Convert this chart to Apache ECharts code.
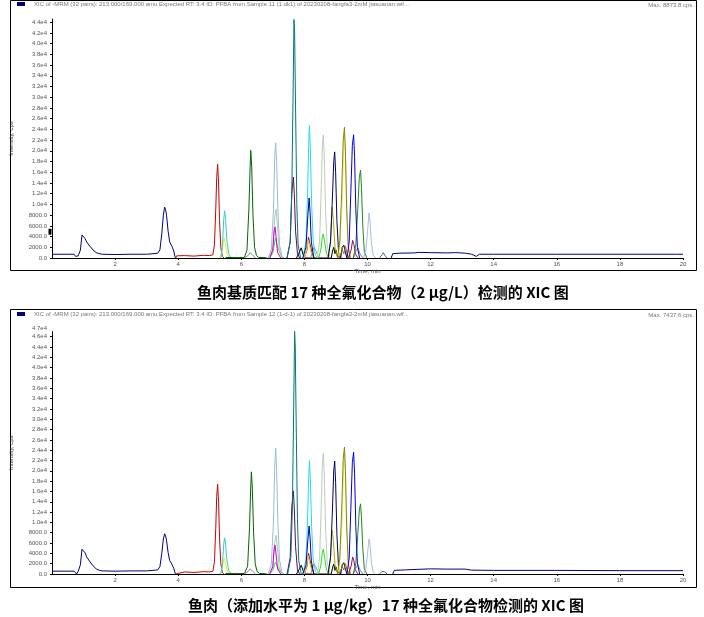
<!DOCTYPE html>
<html><head><meta charset="utf-8">
<script src="https://cdn.jsdelivr.net/npm/echarts@6/dist/echarts.min.js"></script>
<style>html,body{margin:0;padding:0;background:#fff}#c{width:704px;height:617px}</style>
</head><body><div id="c"></div>
<script>
// ---------- tick / text data ----------
const xTicks = [2,4,6,8,10,12,14,16,18,20];
const yTicksTop = [0,2000,4000,6000,8000,10000,12000,14000,16000,18000,20000,22000,24000,26000,28000,30000,32000,34000,36000,38000,40000,42000,44000];
const yTicksBot = [0,2000,4000,6000,8000,10000,12000,14000,16000,18000,20000,22000,24000,26000,28000,30000,32000,34000,36000,38000,40000,42000,44000,46000];
const yMaxTickBot = [47000];
const headerTop = "XIC of -MRM (32 pairs): 213.000/169.000 amu Expected RT: 3.4 ID: PFBA from Sample 11 (1.dk1) of 20230208-fangfa3-2mM jiasuanan.wif...";
const headerBot = "XIC of -MRM (32 pairs): 213.000/169.000 amu Expected RT: 3.4 ID: PFBA from Sample 12 (1-d-1) of 20230208-fangfa3-2mM jiasuanan.wif...";
const maxTop = "Max. 8873.8 cps.";
const maxBot = "Max. 7437.6 cps.";
const captionTop = "鱼肉基质匹配 17 种全氟化合物（2 μg/L）检测的 XIC 图";
const captionBot = "鱼肉（添加水平为 1 μg/kg）17 种全氟化合物检测的 XIC 图";
const markerTop = [0, 4900];

// ---------- trace data (time, cps) : top panel ----------
const pfbaTop = [[0,700],[0.7,700],[0.75,300],[0.78,0],[0.83,400],[0.9,1500],[0.95,4300],[0.98,4000],[1.0,4500],[1.05,3600],[1.1,3000],[1.2,2200],[1.3,1500],[1.4,1000],[1.5,800],[1.6,700],[2.0,650],[2.5,700],[3.0,700],[3.2,800],[3.35,900],[3.42,1500],[3.48,4500],[3.53,8000],[3.57,9500],[3.6,9000],[3.63,8000],[3.68,5000],[3.73,3000],[3.8,2200],[3.86,1300],[3.9,200],[3.92,0]];
const tailTop = [[10.75,0],[10.8,800],[11.0,900],[11.5,950],[11.6,1050],[12.0,1000],[12.5,950],[12.8,1000],[13.1,900],[13.3,700],[13.45,300],[13.55,700],[14,700],[16,700],[18,700],[19.8,700],[19.85,600],[20,700]];
const redTop = [[3.92,0],[3.95,400],[4.2,450],[4.5,350],[4.8,500],[5.0,450],[5.1,600],[5.15,2500],[5.19,9000],[5.22,15000],[5.25,17500],[5.28,14000],[5.31,7000],[5.35,2000],[5.4,300],[5.45,0]];
const yellowTop = [[5.3,0],[5.38,800],[5.43,3000],[5.46,3700],[5.5,2500],[5.55,800],[5.62,0]];
const cyanTop = [[5.35,0],[5.4,2000],[5.44,7000],[5.47,8800],[5.5,7500],[5.54,3500],[5.6,800],[5.68,0]];
const dgreenTop = [[5.5,100],[5.9,80],[6.1,100],[6.18,1500],[6.24,9000],[6.28,17000],[6.3,20100],[6.33,17000],[6.37,8000],[6.42,2000],[6.48,500],[6.55,100],[6.8,50]];
const grey1Top = [[6.1,0],[6.22,500],[6.28,1000],[6.35,600],[6.45,0]];
const steelTop = [[6.85,0],[6.95,1500],[7.02,9000],[7.06,19000],[7.09,21500],[7.12,18000],[7.16,9000],[7.21,2500],[7.3,0]];
const greyGreenTop = [[6.9,0],[7.0,2000],[7.06,7500],[7.1,9100],[7.14,6500],[7.2,1500],[7.3,0]];
const magentaTop = [[6.9,0],[7.0,1500],[7.04,5000],[7.07,5800],[7.1,4000],[7.15,1000],[7.25,0]];
const lgreenTop = [[6.9,0],[7.0,1000],[7.08,3700],[7.13,2500],[7.25,500],[7.35,0]];
const tealTop = [[7.45,0],[7.55,3000],[7.6,12000],[7.64,30000],[7.67,44500],[7.69,42000],[7.72,28000],[7.76,10000],[7.8,2500],[7.88,0]];
const purpleTop = [[7.45,0],[7.55,3000],[7.6,12000],[7.65,15100],[7.68,12000],[7.72,5000],[7.78,800],[7.85,0]];
const blackTop = [[7.75,0],[7.85,1200],[7.9,1900],[7.96,600],[8.02,0],[8.85,0],[8.9,1500],[8.93,2000],[8.97,800],[9.0,1500],[9.04,400],[9.15,0],[9.2,2000],[9.25,2400],[9.3,1000],[9.35,0]];
const bcyanTop = [[7.95,0],[8.05,3000],[8.1,12000],[8.14,22000],[8.16,24800],[8.19,20000],[8.23,10000],[8.28,3000],[8.35,500],[8.42,0]];
const navy2Top = [[7.95,0],[8.05,2000],[8.11,8000],[8.15,11200],[8.18,8500],[8.22,3000],[8.3,0]];
const maroonTop = [[8.0,0],[8.08,1500],[8.13,3900],[8.17,2800],[8.25,800],[8.3,0]];
const yellow2Top = [[8.0,0],[8.08,1800],[8.12,3300],[8.17,2000],[8.25,0]];
const oliveGreyTop = [[8.2,0],[8.3,2000],[8.38,1200],[8.45,0]];
const lgGreenTop = [[8.4,0],[8.48,3000],[8.53,12000],[8.57,21000],[8.6,23000],[8.63,19000],[8.67,9000],[8.72,2500],[8.8,0]];
const bgreenTop = [[8.45,0],[8.52,1500],[8.57,4000],[8.6,4500],[8.64,3000],[8.7,800],[8.78,0]];
const dnavyTop = [[8.75,0],[8.83,3000],[8.88,10000],[8.93,18000],[8.96,19800],[8.99,16000],[9.03,7000],[9.08,1500],[9.15,0]];
const oliveTop = [[8.75,0],[8.82,3000],[8.88,9500],[8.92,7000],[8.97,2000],[9.05,0]];
const oliveDkTop = [[9.05,0],[9.12,3000],[9.18,12000],[9.23,22000],[9.27,24400],[9.3,20000],[9.34,9000],[9.39,2000],[9.46,0]];
const paleYelTop = [[9.1,0],[9.2,10000],[9.26,23500],[9.31,18000],[9.38,3000],[9.45,0]];
const brownTop = [[9.1,0],[9.2,1500],[9.25,800],[9.3,2200],[9.36,600],[9.45,0]];
const blueTop = [[9.35,0],[9.42,3000],[9.47,12000],[9.52,21000],[9.56,23000],[9.59,19000],[9.63,9000],[9.68,2000],[9.75,0]];
const mag2Top = [[9.4,0],[9.48,1500],[9.53,3300],[9.57,2500],[9.63,600],[9.7,0]];
const greenTop = [[9.55,0],[9.63,2500],[9.69,9000],[9.74,15000],[9.78,16400],[9.81,13000],[9.85,6000],[9.9,1200],[9.98,0]];
const grey2Top = [[9.55,0],[9.65,1500],[9.7,1900],[9.76,800],[9.85,0]];
const lblueTop = [[9.88,0],[9.95,1500],[10.0,5000],[10.05,8400],[10.08,7000],[10.12,3000],[10.18,500],[10.25,0]];
const tealSmTop = [[10.38,0],[10.46,600],[10.5,1000],[10.55,500],[10.62,0]];

// ---------- trace data (time, cps) : bottom panel ----------
const pfbaBot = [[0,550],[0.7,550],[0.75,250],[0.78,0],[0.83,500],[0.9,1800],[0.95,4800],[0.98,4500],[1.0,5000],[1.05,4100],[1.1,3300],[1.2,2400],[1.3,1600],[1.4,1000],[1.5,700],[1.6,600],[2.0,550],[2.5,600],[3.0,600],[3.2,700],[3.35,800],[3.42,1400],[3.48,4000],[3.53,6800],[3.57,7800],[3.6,7400],[3.63,6500],[3.68,4200],[3.73,2600],[3.8,1900],[3.86,1100],[3.9,200],[3.92,0]];
const tailBot = [[10.8,0],[10.85,700],[11.2,800],[11.6,900],[12.0,1000],[12.5,950],[13.1,950],[13.3,750],[14,700],[16,700],[18,650],[20,650]];
const redBot = [[3.92,0],[3.95,350],[4.2,400],[4.5,300],[4.8,450],[5.0,400],[5.1,550],[5.15,2400],[5.19,8800],[5.22,15000],[5.25,17400],[5.28,14000],[5.31,7000],[5.35,2000],[5.4,300],[5.45,0]];
const yellowBot = [[5.3,0],[5.38,700],[5.43,2500],[5.46,3100],[5.5,2100],[5.55,700],[5.62,0]];
const cyanBot = [[5.35,0],[5.4,1600],[5.44,5600],[5.47,7000],[5.5,6000],[5.54,2800],[5.6,700],[5.68,0]];
const dgreenBot = [[5.5,100],[5.9,80],[6.1,100],[6.2,1500],[6.26,9000],[6.3,17000],[6.32,19800],[6.35,16500],[6.39,8000],[6.44,2000],[6.5,500],[6.57,100],[6.8,50]];
const grey1Bot = [[6.1,0],[6.22,500],[6.28,1000],[6.35,600],[6.45,0]];
const steelBot = [[6.85,0],[6.95,1800],[7.02,10000],[7.06,21000],[7.09,24400],[7.12,20000],[7.16,10000],[7.21,2800],[7.3,0]];
const greyGreenBot = [[6.9,0],[7.0,1700],[7.06,6200],[7.1,7500],[7.14,5400],[7.2,1300],[7.3,0]];
const magentaBot = [[6.9,0],[7.0,1400],[7.04,4800],[7.07,5600],[7.1,3900],[7.15,1000],[7.25,0]];
const lgreenBot = [[6.9,0],[7.0,700],[7.08,2300],[7.13,1600],[7.25,400],[7.35,0]];
const tealBot = [[7.47,0],[7.57,3200],[7.62,13000],[7.66,32000],[7.69,47000],[7.71,44000],[7.74,29000],[7.78,10500],[7.82,2600],[7.9,0]];
const purpleBot = [[7.45,0],[7.55,3200],[7.6,13000],[7.65,16100],[7.68,12800],[7.72,5300],[7.78,800],[7.85,0]];
const blackBot = [[7.75,0],[7.85,1100],[7.9,1700],[7.96,600],[8.02,0],[8.85,0],[8.9,1400],[8.93,1900],[8.97,700],[9.0,1400],[9.04,400],[9.15,0],[9.2,1800],[9.25,2200],[9.3,900],[9.35,0]];
const bcyanBot = [[7.95,0],[8.05,2700],[8.1,10500],[8.14,19500],[8.16,22000],[8.19,18000],[8.23,9000],[8.28,2700],[8.35,500],[8.42,0]];
const navy2Bot = [[7.95,0],[8.05,1700],[8.11,6600],[8.15,9300],[8.18,7000],[8.22,2500],[8.3,0]];
const maroonBot = [[8.0,0],[8.08,1500],[8.13,4000],[8.17,2900],[8.25,800],[8.3,0]];
const yellow2Bot = [[8.0,0],[8.08,1900],[8.12,3500],[8.17,2100],[8.25,0]];
const oliveGreyBot = [[8.2,0],[8.3,2000],[8.38,1200],[8.45,0]];
const lgGreenBot = [[8.4,0],[8.48,3000],[8.53,12200],[8.57,21400],[8.6,23400],[8.63,19300],[8.67,9200],[8.72,2500],[8.8,0]];
const bgreenBot = [[8.45,0],[8.52,1600],[8.57,4300],[8.6,4800],[8.64,3200],[8.7,800],[8.78,0]];
const dnavyBot = [[8.75,0],[8.83,3300],[8.88,11000],[8.93,20000],[8.96,21900],[8.99,17700],[9.03,7700],[9.08,1600],[9.15,0]];
const oliveBot = [[8.75,0],[8.82,2700],[8.88,8500],[8.92,6300],[8.97,1800],[9.05,0]];
const oliveDkBot = [[9.05,0],[9.12,3000],[9.18,12100],[9.23,22200],[9.27,24600],[9.3,20200],[9.34,9100],[9.39,2000],[9.46,0]];
const paleYelBot = [[9.1,0],[9.2,10000],[9.26,23800],[9.31,18200],[9.38,3000],[9.45,0]];
const brownBot = [[9.1,0],[9.2,1400],[9.25,800],[9.3,2000],[9.36,600],[9.45,0]];
const blueBot = [[9.35,0],[9.42,3100],[9.47,12300],[9.52,21600],[9.56,23600],[9.59,19500],[9.63,9200],[9.68,2100],[9.75,0]];
const mag2Bot = [[9.4,0],[9.48,1500],[9.53,3300],[9.57,2500],[9.63,600],[9.7,0]];
const greenBot = [[9.55,0],[9.63,2100],[9.69,7500],[9.74,12400],[9.78,13600],[9.81,10800],[9.85,5000],[9.9,1000],[9.98,0]];
const grey2Bot = [[9.55,0],[9.65,1400],[9.7,1800],[9.76,800],[9.85,0]];
const lblueBot = [[9.88,0],[9.95,1200],[10.0,4000],[10.05,6800],[10.08,5700],[10.12,2400],[10.18,400],[10.25,0]];
const tealSmBot = [[10.38,0],[10.46,500],[10.5,800],[10.55,400],[10.62,0]];

// ---------- trace list (name, colour, top data, bottom data) ----------
const traces = [
  ['PFBA', '#00007f', pfbaTop, pfbaBot],
  ['tail', '#00007f', tailTop, tailBot],
  ['red', '#cc0000', redTop, redBot],
  ['yellow', '#eeee22', yellowTop, yellowBot],
  ['cyan', '#33cccc', cyanTop, cyanBot],
  ['dgreen', '#006600', dgreenTop, dgreenBot],
  ['grey1', '#888888', grey1Top, grey1Bot],
  ['lgreen', '#55cc55', lgreenTop, lgreenBot],
  ['steel', '#99bbdd', steelTop, steelBot],
  ['greyGreen', '#aaccaa', greyGreenTop, greyGreenBot],
  ['magenta', '#cc00cc', magentaTop, magentaBot],
  ['purple', '#660066', purpleTop, purpleBot],
  ['teal', '#007777', tealTop, tealBot],
  ['black', '#000000', blackTop, blackBot],
  ['maroon', '#882222', maroonTop, maroonBot],
  ['yellow2', '#ffcc33', yellow2Top, yellow2Bot],
  ['oliveGrey', '#999966', oliveGreyTop, oliveGreyBot],
  ['bcyan', '#22ddee', bcyanTop, bcyanBot],
  ['navy2', '#000099', navy2Top, navy2Bot],
  ['bgreen', '#22dd22', bgreenTop, bgreenBot],
  ['lgGreen', '#bbccbb', lgGreenTop, lgGreenBot],
  ['olive', '#aaaa00', oliveTop, oliveBot],
  ['dnavy', '#000066', dnavyTop, dnavyBot],
  ['paleYel', '#eeee88', paleYelTop, paleYelBot],
  ['brown', '#996633', brownTop, brownBot],
  ['oliveDk', '#888800', oliveDkTop, oliveDkBot],
  ['mag2', '#aa0066', mag2Top, mag2Bot],
  ['grey2', '#888888', grey2Top, grey2Bot],
  ['green', '#228822', greenTop, greenBot],
  ['blue', '#0000dd', blueTop, blueBot],
  ['lblue', '#aabbdd', lblueTop, lblueBot],
  ['tealSm', '#337777', tealSmTop, tealSmBot]
];

const FONT = 'Liberation Sans, Arial, sans-serif';
const yFmt = v => v >= 10000 ? (v/10000).toFixed(1) + 'e4' : v.toFixed(1);

function xAxisCfg(gi) {
  return {
    type: 'value', gridIndex: gi, min: 0, max: 20, interval: 2,
    name: 'Time, min', nameLocation: 'middle', nameGap: 8,
    nameTextStyle: {fontSize: 6, color: '#555', fontFamily: FONT},
    axisLine: {show: true, onZero: false, lineStyle: {color: '#000', width: 1}},
    axisTick: {show: true, length: 2, lineStyle: {color: '#000'}},
    axisLabel: {fontSize: 6, color: '#555', margin: 3, fontFamily: FONT, showMinLabel: false, hideOverlap: false,
      formatter: v => xTicks.indexOf(v) >= 0 ? String(v) : ''},
    splitLine: {show: false}
  };
}
function yAxisCfg(gi, max, ticks) {
  return {
    type: 'value', gridIndex: gi, min: 0, max: max,
    name: 'Intensity, cps', nameLocation: 'middle', nameGap: 38, nameRotate: 90,
    nameTextStyle: {fontSize: 6, color: '#333', fontFamily: FONT},
    axisLine: {show: true, lineStyle: {color: '#000', width: 1}},
    axisTick: {show: true, length: 2, lineStyle: {color: '#000'}, customValues: ticks},
    axisLabel: {fontSize: 6, color: '#555', margin: 5, fontFamily: FONT, hideOverlap: false,
      customValues: ticks, formatter: yFmt},
    splitLine: {show: false}
  };
}
// helper axis carrying only the max label of the lower panel
const yMaxAxisBot = {
  type: 'value', gridIndex: 1, min: 0, max: 47000, position: 'left',
  axisLine: {show: false}, splitLine: {show: false},
  axisTick: {show: false, customValues: yMaxTickBot},
  axisLabel: {fontSize: 6, color: '#555', margin: 5, fontFamily: FONT, verticalAlign: 'bottom',
    customValues: yMaxTickBot, formatter: yFmt}
};

const series = [];
traces.forEach(([name, color, top, bot]) => {
  [top, bot].forEach((d, i) => {
    const s = {
      name: name + (i === 0 ? '-1' : '-2'),
      type: 'line', xAxisIndex: i, yAxisIndex: i, data: d,
      showSymbol: false, symbol: 'none', silent: true,
      lineStyle: {color: color, width: 1}, itemStyle: {color: color},
      z: 2
    };
    if (name === 'PFBA' && i === 0) {
      s.markPoint = {silent: true, symbol: 'rect', symbolSize: [3, 6], symbolOffset: [-2, 0],
        itemStyle: {color: '#000'}, label: {show: false}, data: [{coord: markerTop}]};
    }
    series.push(s);
  });
});

const chart = echarts.init(document.getElementById('c'), null, {renderer: 'canvas'});
chart.setOption({
  animation: false,
  backgroundColor: '#fff',
  grid: [
    {left: 51, width: 632, top: 19, height: 239},
    {left: 51, width: 632, top: 331.5, height: 242.5}
  ],
  xAxis: [xAxisCfg(0), xAxisCfg(1)],
  yAxis: [yAxisCfg(0, 44600, yTicksTop), yAxisCfg(1, 47000, yTicksBot), yMaxAxisBot],
  legend: [
    {data: ['PFBA-1'], left: 17, top: 1, padding: 0, itemWidth: 8, itemHeight: 4, icon: 'rect', itemGap: 0,
     selectedMode: false, textStyle: {fontSize: 6, color: '#777', fontFamily: FONT, padding: [0,0,0,4]}, formatter: () => headerTop},
    {data: ['PFBA-2'], left: 17, top: 311, padding: 0, itemWidth: 8, itemHeight: 4, icon: 'rect', itemGap: 0,
     selectedMode: false, textStyle: {fontSize: 6, color: '#777', fontFamily: FONT, padding: [0,0,0,4]}, formatter: () => headerBot}
  ],
  title: [
    {text: maxTop, right: 10, top: 2, textStyle: {fontSize: 6, color: '#777', fontWeight: 'normal', fontFamily: FONT}, padding: 0},
    {text: maxBot, right: 10, top: 312, textStyle: {fontSize: 6, color: '#777', fontWeight: 'normal', fontFamily: FONT}, padding: 0},
    {text: captionTop, left: 197, top: 285, padding: 0,
     textStyle: {fontSize: 15, fontWeight: 'bold', color: '#000', fontFamily: 'Noto Sans CJK SC'}},
    {text: captionBot, left: 188, top: 598, padding: 0,
     textStyle: {fontSize: 15, fontWeight: 'bold', color: '#000', fontFamily: 'Noto Sans CJK SC'}}
  ],
  graphic: [
    {type: 'rect', shape: {x: 10.5, y: 0.5, width: 686, height: 270}, style: {fill: 'none', stroke: '#000', lineWidth: 1}, silent: true},
    {type: 'rect', shape: {x: 10.5, y: 309.5, width: 686, height: 278}, style: {fill: 'none', stroke: '#000', lineWidth: 1}, silent: true}
  ],
  series: series
});
</script>
</body></html>
